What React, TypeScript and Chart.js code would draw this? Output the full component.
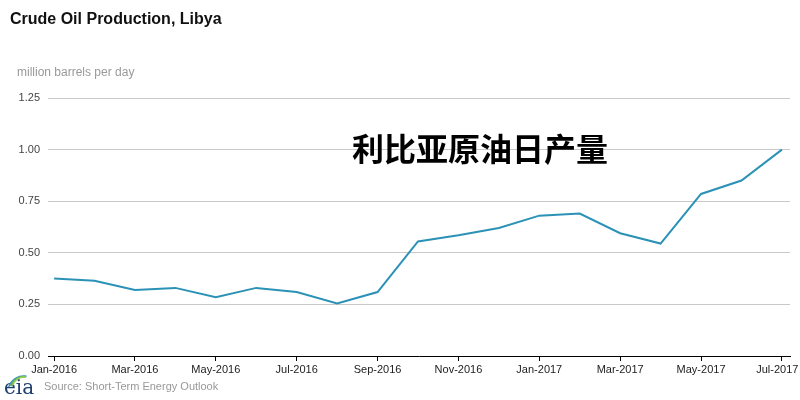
import { useEffect, useRef } from 'react';
import { Chart, registerables } from 'chart.js';
Chart.register(...registerables);

// months Jan-2016 .. Jul-2017
const months = [
    'Jan-2016', 'Feb-2016', 'Mar-2016', 'Apr-2016', 'May-2016', 'Jun-2016',
    'Jul-2016', 'Aug-2016', 'Sep-2016', 'Oct-2016', 'Nov-2016', 'Dec-2016',
    'Jan-2017', 'Feb-2017', 'Mar-2017', 'Apr-2017', 'May-2017', 'Jun-2017', 'Jul-2017',
];
const production = [
    0.375, 0.365, 0.32, 0.33, 0.285, 0.33, 0.31, 0.255, 0.31, 0.555,
    0.585, 0.62, 0.68, 0.69, 0.595, 0.545, 0.785, 0.85, 1.0,
];
const yTicks = [0, 0.25, 0.5, 0.75, 1.0, 1.25];

const title = 'Crude Oil Production, Libya';
const unitLabel = 'million barrels per day';
const sourceLabel = 'Source: Short-Term Energy Outlook';
const overlayText = '利比亚原油日产量';

const FONT = 'Arial, "Liberation Sans", sans-serif';

const decorations = {
    id: 'decorations',
    afterDraw(chart: Chart) {
        const ctx = chart.ctx;
        ctx.save();
        ctx.textBaseline = 'middle';
        ctx.textAlign = 'left';

        ctx.fillStyle = '#111';
        ctx.font = `bold 16px ${FONT}`;
        ctx.fillText(title, 10, 20);

        ctx.fillStyle = '#999';
        ctx.font = `12px ${FONT}`;
        ctx.fillText(unitLabel, 17, 73);
        ctx.font = `11px ${FONT}`;
        ctx.fillText(sourceLabel, 44, 387);

        // eia logo
        ctx.fillStyle = '#1f3f6e';
        ctx.font = '20px "DejaVu Serif", "Liberation Serif", serif';
        ctx.fillText('eia', 4, 389);
        ctx.lineWidth = 1.5;
        const arcs = ['#2e8fc6', '#5fb04a', '#9acd5a'];
        arcs.forEach((c, i) => {
            ctx.strokeStyle = c;
            ctx.beginPath();
            ctx.arc(24, 392 - i * 1.5, 16 - i * 2, Math.PI * 1.1, Math.PI * 1.55);
            ctx.stroke();
        });

        ctx.fillStyle = '#000';
        ctx.font = 'bold 32px "Noto Sans CJK SC", sans-serif';
        ctx.fillText(overlayText, 352, 149);
        ctx.restore();
    },
};

export default function App() {
    const canvasRef = useRef<HTMLCanvasElement>(null);
    useEffect(() => {
        document.body.style.margin = '0';
        if (canvasRef.current === null) return;
        const ctx = canvasRef.current.getContext('2d');
        if (ctx === null) return;
        const last = months.length - 1;
        const chart = new Chart(ctx, {
            type: 'line',
            data: {
                datasets: [{
                    label: 'Libya',
                    data: production.map((v, i) => ({ x: i, y: v })),
                    borderColor: '#2b92b6',
                    borderWidth: 2,
                    pointRadius: 0,
                    tension: 0,
                    fill: false,
                }],
            },
            plugins: [decorations],
            options: {
                animation: false,
                responsive: false,
                devicePixelRatio: 1,
                layout: { padding: { top: 98, right: 10, left: 0, bottom: 0 } },
                plugins: {
                    legend: { display: false },
                    tooltip: { enabled: false },
                },
                scales: {
                    x: {
                        type: 'linear',
                        min: -0.15,
                        max: 18.2,
                        afterBuildTicks: (axis: any) => {
                            axis.ticks = months
                                .map((_, i) => i)
                                .filter((i) => i % 2 === 0)
                                .map((i) => ({ value: i }));
                        },
                        afterFit: (axis: any) => {
                            axis.height = 44;
                            axis.paddingRight = 0;
                            axis.paddingLeft = 0;
                        },
                        ticks: {
                            // last label nudged left so it stays inside the canvas
                            callback: (v: any) => (v === last ? months[v] + '   ' : months[v] ?? ''),
                            color: '#222',
                            font: { family: FONT, size: 11 },
                            maxRotation: 0,
                            autoSkip: false,
                            padding: 2,
                        },
                        grid: {
                            drawOnChartArea: false,
                            drawTicks: true,
                            tickLength: 5,
                            color: '#000',
                        },
                        border: { display: true, color: '#000', width: 1 },
                    },
                    y: {
                        min: 0,
                        max: 1.25,
                        afterBuildTicks: (axis: any) => {
                            axis.ticks = yTicks.map((v) => ({ value: v }));
                        },
                        afterFit: (axis: any) => { axis.width = 48; },
                        ticks: {
                            callback: (v: any) => Number(v).toFixed(2),
                            color: '#444',
                            font: { family: FONT, size: 11 },
                            padding: 8,
                        },
                        grid: { color: '#c8c8c8', drawTicks: false },
                        border: { display: false },
                    },
                },
            },
        });
        return () => {
            chart.destroy();
        };
    }, []);

    return (
        <div style={{ width: 800, height: 400, background: '#fff' }}>
            <canvas ref={canvasRef} width={800} height={400}></canvas>
        </div>
    );
}
